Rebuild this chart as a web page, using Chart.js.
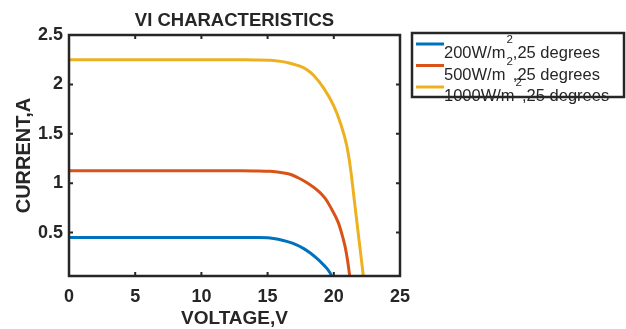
<!DOCTYPE html>
<html>
<head>
<meta charset="utf-8">
<script src="https://cdn.jsdelivr.net/npm/chart.js@4/dist/chart.umd.min.js"></script>
<style>
html,body{margin:0;padding:0;background:#fff;}
#wrap{position:relative;width:626px;height:329px;}
</style>
</head>
<body>
<div id="wrap"><canvas id="c" width="626" height="329"></canvas></div>
<script>
const chartTitle = "VI CHARACTERISTICS";
const xTitle = "VOLTAGE,V";
const yTitle = "CURRENT,A";
const legendMain = ["200W/m", "500W/m", "1000W/m"];
const legendSup = "2";
const legendTail = ",25 degrees";
const seriesLabels = ["200W/m\u00B2,25 degrees", "500W/m\u00B2,25 degrees", "1000W/m\u00B2,25 degrees"];
const xTicks = [0, 5, 10, 15, 20, 25];
const yTicks = [0.5, 1, 1.5, 2, 2.5];

const v200 = [0, 2, 4, 6, 8, 10, 12, 13, 14, 15.18, 15.8, 16.44, 17.1, 17.7, 18.2, 18.7, 19.1, 19.46, 19.7, 19.84];
const i200 = [0.45, 0.45, 0.45, 0.45, 0.45, 0.45, 0.45, 0.45, 0.449, 0.445, 0.432, 0.41, 0.38, 0.34, 0.295, 0.24, 0.19, 0.14, 0.095, 0.06];

const v500 = [0, 2, 4, 6, 8, 10, 12, 13, 14, 15.18, 16, 16.7, 17.3, 17.95, 18.96, 19.35, 19.7, 20.34, 20.6, 20.85, 21.05, 21.2];
const i500 = [1.125, 1.125, 1.125, 1.125, 1.125, 1.125, 1.125, 1.125, 1.124, 1.12, 1.108, 1.09, 1.055, 1.007, 0.905, 0.845, 0.77, 0.60, 0.49, 0.36, 0.21, 0.06];

const v1000 = [0, 2, 4, 6, 8, 10, 12, 13, 14, 15.2, 16, 16.7, 17.2, 17.7, 18.1, 18.45, 19.2, 19.97, 20.47, 20.97, 21.25, 21.6, 22, 22.23];
const i1000 = [2.25, 2.25, 2.25, 2.25, 2.25, 2.25, 2.25, 2.249, 2.248, 2.245, 2.233, 2.214, 2.195, 2.17, 2.135, 2.095, 1.97, 1.79, 1.62, 1.385, 1.16, 0.77, 0.32, 0.06];

const colors = ["#0072BD", "#D95319", "#EDB120"];
const FONT = '"Liberation Sans", Arial, Helvetica, sans-serif';
const ink = '#262626';

function pts(xs, ys) { return xs.map((x, k) => ({x: x, y: ys[k]})); }

const framePlugin = {
  id: 'frame',
  afterDatasetsDraw(chart) {
    const {ctx, chartArea: a, scales} = chart;
    ctx.save();
    ctx.strokeStyle = ink;
    ctx.lineWidth = 2.5;
    ctx.strokeRect(a.left, a.top, a.right - a.left, a.bottom - a.top);
    ctx.lineWidth = 2;
    ctx.beginPath();
    xTicks.forEach(v => {
      const px = scales.x.getPixelForValue(v);
      ctx.moveTo(px, a.bottom); ctx.lineTo(px, a.bottom - 4);
      ctx.moveTo(px, a.top); ctx.lineTo(px, a.top + 4);
    });
    yTicks.forEach(v => {
      const py = scales.y.getPixelForValue(v);
      ctx.moveTo(a.left, py); ctx.lineTo(a.left + 4, py);
      ctx.moveTo(a.right, py); ctx.lineTo(a.right - 4, py);
    });
    ctx.stroke();
    ctx.restore();
  }
};

const legendPlugin = {
  id: 'boxLegend',
  afterDraw(chart) {
    const {ctx} = chart;
    const left = 412, top = 33, w = 212, h = 64;
    ctx.save();
    ctx.fillStyle = '#fff';
    ctx.fillRect(left, top, w, h);
    ctx.textBaseline = 'alphabetic';
    chart.data.datasets.forEach((ds, k) => {
      const y = 44 + k * 21.5;
      ctx.strokeStyle = ds.borderColor;
      ctx.lineWidth = 3;
      ctx.beginPath();
      ctx.moveTo(416, y); ctx.lineTo(444, y);
      ctx.stroke();
      ctx.fillStyle = ink;
      ctx.font = '16.5px ' + FONT;
      let x = 444;
      const base = y + 14;
      ctx.fillText(legendMain[k], x, base);
      x += ctx.measureText(legendMain[k]).width;
      ctx.font = '11.5px ' + FONT;
      ctx.fillText(legendSup, x + 1, base - 15);
      x += ctx.measureText(legendSup).width + 1;
      ctx.font = '16.5px ' + FONT;
      ctx.fillText(legendTail, x, base);
    });
    ctx.strokeStyle = ink;
    ctx.lineWidth = 2.5;
    ctx.strokeRect(left, top, w, h);
    ctx.restore();
  }
};

new Chart(document.getElementById('c'), {
  type: 'line',
  data: {
    datasets: [
      {label: seriesLabels[0], data: pts(v200, i200), borderColor: colors[0]},
      {label: seriesLabels[1], data: pts(v500, i500), borderColor: colors[1]},
      {label: seriesLabels[2], data: pts(v1000, i1000), borderColor: colors[2]}
    ].map(d => Object.assign(d, {borderWidth: 3, pointRadius: 0, fill: false, cubicInterpolationMode: 'monotone'}))
  },
  plugins: [framePlugin, legendPlugin],
  options: {
    responsive: false,
    animation: false,
    layout: {padding: {left: 0, right: 226, top: 0, bottom: 0}},
    plugins: {
      legend: {display: false},
      tooltip: {enabled: false},
      title: {
        display: true, text: chartTitle, fullSize: false, color: ink,
        font: {family: FONT, size: 18.5, weight: 'bold', lineHeight: 1},
        padding: {top: 11.25, bottom: 5.25}
      }
    },
    scales: {
      x: {
        type: 'linear', min: 0, max: 25,
        afterBuildTicks: s => { s.ticks = xTicks.map(v => ({value: v})); },
        afterFit: s => { s.height = 53; },
        grid: {display: false, drawTicks: false},
        border: {display: false},
        ticks: {color: ink, padding: 10, callback: v => String(v), font: {family: FONT, size: 18, weight: 'bold'}},
        title: {display: true, text: xTitle, color: ink, padding: {top: 0, bottom: 1},
          font: {family: FONT, size: 19, weight: 'bold', lineHeight: 1}}
      },
      y: {
        type: 'linear', min: 0.06, max: 2.5,
        afterBuildTicks: s => { s.ticks = yTicks.map(v => ({value: v})); },
        afterFit: s => { s.width = 69; },
        grid: {display: false, drawTicks: false},
        border: {display: false},
        ticks: {color: ink, padding: 6, callback: v => String(v), font: {family: FONT, size: 18, weight: 'bold'}},
        title: {display: true, text: yTitle, color: ink, padding: {top: 14.5, bottom: 0},
          font: {family: FONT, size: 20, weight: 'bold', lineHeight: 1}}
      }
    }
  }
});
</script>
</body>
</html>
